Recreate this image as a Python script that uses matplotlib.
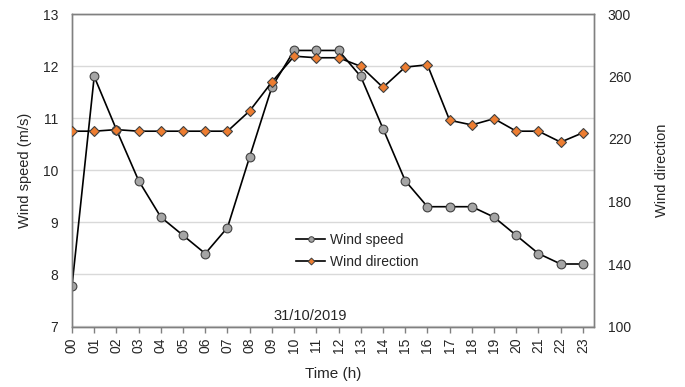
import matplotlib
matplotlib.use("Agg")
import matplotlib.pyplot as plt
from matplotlib.lines import Line2D

plt.rcParams['font.family'] = ['Liberation Sans', 'DejaVu Sans']

hours = list(range(24))
hour_labels = [f"{h:02d}" for h in hours]
wind_speed = [7.78, 11.8, 10.78, 9.8, 9.1, 8.75, 8.4, 8.9, 10.26, 11.6, 12.3, 12.3,
              12.3, 11.8, 10.8, 9.8, 9.3, 9.3, 9.3, 9.1, 8.75, 8.4, 8.2, 8.2]
wind_dir = [225, 225, 226, 225, 225, 225, 225, 225, 238, 256.5, 273, 272,
            272, 266.5, 253, 266, 267.5, 232, 229, 233, 225, 225, 218, 224]
speed_ticks = [7, 8, 9, 10, 11, 12, 13]
dir_ticks = [100, 140, 180, 220, 260, 300]

W, H = 685, 387
fig = plt.figure(figsize=(W / 100, H / 100), dpi=100)
ax = fig.add_axes([72 / W, 1 - 326.5 / H, (594 - 72) / W, (326.5 - 14) / H])

txt = '#262626'
spine_c = '#808080'
ax.plot(hours, wind_speed, color='black', lw=1.2, marker='o', ms=6.3,
        mfc='#A5A5A5', mec='#404040', mew=0.8, zorder=3)
ax.set_xlim(0, 23.5)
ax.set_ylim(7, 13)
ax.set_yticks(speed_ticks)
ax.set_xticks(hours)
ax.set_xticklabels(hour_labels, rotation=90)
ax.grid(axis='y', color='#D9D9D9', lw=1)
ax.set_axisbelow(True)
ax.tick_params(axis='y', length=0, pad=10, labelsize=10, labelcolor=txt)
ax.tick_params(axis='x', length=4, width=1, color=spine_c, pad=4, labelsize=10, labelcolor=txt)
for s in ax.spines.values():
    s.set_color(spine_c)
    s.set_linewidth(1)
ax.set_ylabel('Wind speed (m/s)', fontsize=10.5, color=txt, labelpad=8)
ax.set_xlabel('Time (h)', fontsize=11, color=txt, labelpad=10)

ax2 = ax.twinx()
ax2.plot(hours, wind_dir, color='black', lw=1.2, marker='D', ms=5.5,
         mfc='#ED7D31', mec='#404040', mew=0.8, zorder=3)
ax2.set_ylim(100, 300)
ax2.set_yticks(dir_ticks)
ax2.tick_params(axis='y', length=0, pad=10, labelsize=10, labelcolor=txt)
for s in ax2.spines.values():
    s.set_color(spine_c)
    s.set_linewidth(1)
ax2.set_ylabel('Wind direction', fontsize=10.5, color=txt, labelpad=17)

handles = [
    Line2D([], [], color='black', lw=1.2, marker='o', ms=4, mfc='#A5A5A5', mec='#404040', mew=0.7),
    Line2D([], [], color='black', lw=1.2, marker='D', ms=3.5, mfc='#ED7D31', mec='#404040', mew=0.7),
]
fig.legend(handles, ['Wind speed', 'Wind direction'], loc='center left',
           bbox_to_anchor=(296 / W, 1 - 251 / H), frameon=False, fontsize=10,
           handlelength=2.1, handletextpad=0.35, borderpad=0, borderaxespad=0,
           labelspacing=0.55, labelcolor=txt)

fig.text(310 / W, 1 - 316 / H, '31/10/2019', ha='center', va='center', fontsize=10.5, color=txt)

fig.savefig('out.png', dpi=100)
